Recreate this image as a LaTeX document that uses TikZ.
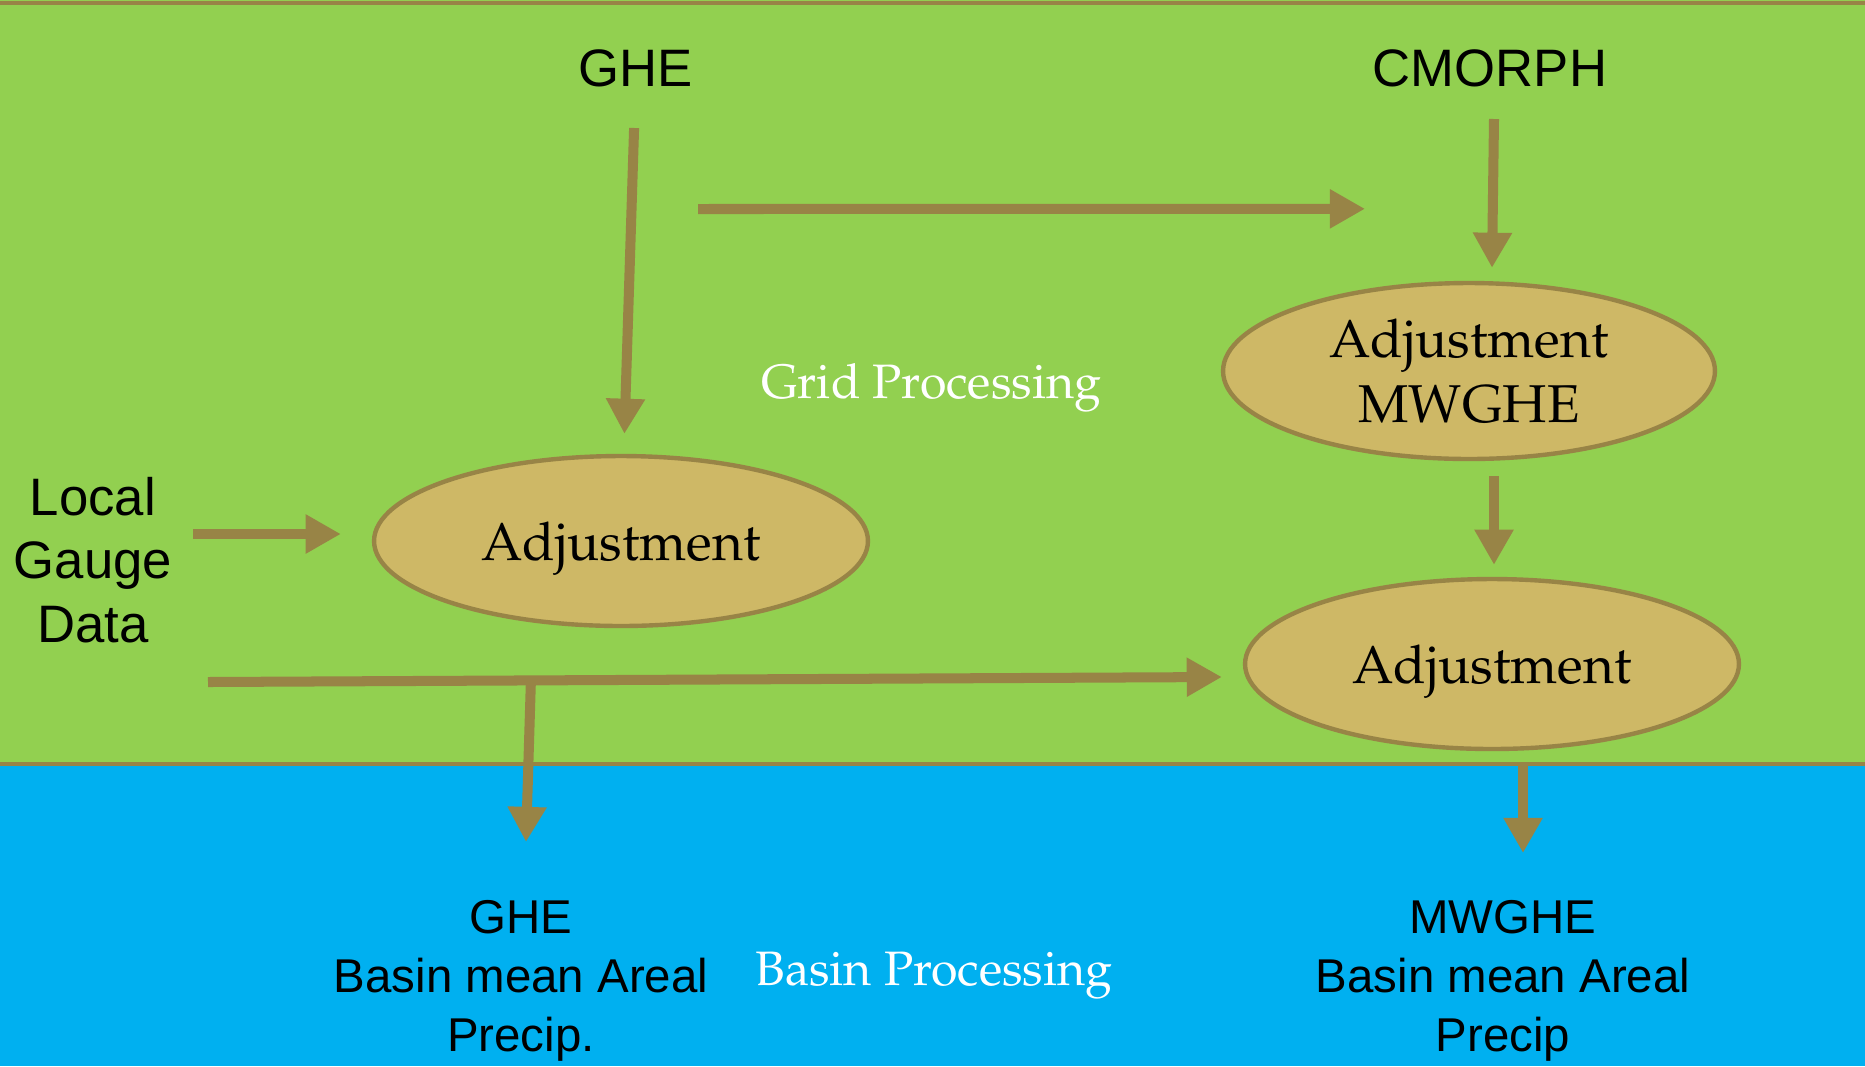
\documentclass[tikz,border=0pt]{standalone}
\usepackage[T1]{fontenc}
\usepackage{fontspec}
\setsansfont{Liberation Sans}
\newcommand\palfont{\fontencoding{T1}\fontfamily{ppl}\selectfont}
\usetikzlibrary{arrows.meta,calc,shapes.geometric}
\definecolor{gridgreen}{RGB}{146,208,80}
\definecolor{basinblue}{RGB}{0,176,240}
\definecolor{lineolive}{RGB}{152,132,70}
\definecolor{ellsand}{RGB}{206,184,102}
\begin{document}
\begin{tikzpicture}[x=0.02cm, y=-0.02cm,
    flow/.style={draw=lineolive, line width=5.7pt, -{Triangle[length=20pt, width=21pt]}},
    adj/.style={ellipse, draw=lineolive, fill=ellsand, line width=2.5pt, inner sep=0pt, align=center, font=\palfont\fontsize{30.3}{37}\selectfont},
    source/.style={inner sep=0pt, align=center, font=\sffamily\fontsize{30}{36}\selectfont},
    result/.style={inner sep=0pt, align=center, font=\sffamily\fontsize{27}{33.5}\selectfont},
    zone/.style={text=white, inner sep=0pt, font=\palfont\fontsize{27.5}{32}\selectfont}]
    \useasboundingbox (0,0) rectangle (1865,1066);
    \fill[gridgreen] (0,0) rectangle (1865,764);
    \fill[basinblue] (0,764) rectangle (1865,1066);
    \draw[lineolive, line width=2.8pt] (0,3) -- (1865,3);
    \draw[lineolive, line width=2.8pt] (0,764) -- (1865,764);

    \node[source] (ghe) at (636,68) {GHE};
    \node[source] (cmorph) at (1490,68) {CMORPH};
    \node[source] (gauge) at (93,560) {Local\\Gauge\\Data};

    \node[adj, text depth=0pt, minimum width=9.88cm, minimum height=3.4cm] (adjL) at (621,541) {Adjustment};
    \node[adj, minimum width=9.84cm, minimum height=3.52cm] (adjM) at (1469,371) {Adjustment\\MWGHE};
    \node[adj, text depth=0pt, minimum width=9.88cm, minimum height=3.4cm] (adjR) at (1492,664) {Adjustment};

    \node[zone] (grid) at (931,388) {Grid Processing};
    \node[zone] (basin) at (934,976) {Basin Processing};

    \node[result] (ghebasin) at (521,981) {GHE\\Basin mean Areal\\Precip.};
    \node[result] (mwghebasin) at (1503,981) {MWGHE\\Basin mean Areal\\Precip};

    \draw[flow, shorten <=0.82cm, shorten >=0.4cm] (ghe) -- (adjL);
    \draw[flow] ($(ghe)+(62,141)$) -- ($(adjM.north)+(-104,-72)$);
    \draw[flow] ($(cmorph)+(4,51)$) -- ($(adjM.north)+(23,-13)$);
    \draw[flow] ($(gauge)+(100,-26)$) -- ($(adjL.west)+(-31,-7)$);
    \draw[flow] ($(adjM.south)+(25,15)$) -- ($(adjR.north)+(2,-12)$);
    \draw[flow] ($(gauge)+(115,122)$) coordinate (gaugeout) -- ($(adjR.west)+(-21,13)$) coordinate (adjRin);
    \draw[flow] ($(gaugeout)!0.3185!(adjRin)$) -- ($(ghebasin)+(5,-139)$);
    \draw[flow] ($(adjR.south)+(31,14)$) -- ($(mwghebasin)+(20,-128)$);
\end{tikzpicture}
\end{document}
